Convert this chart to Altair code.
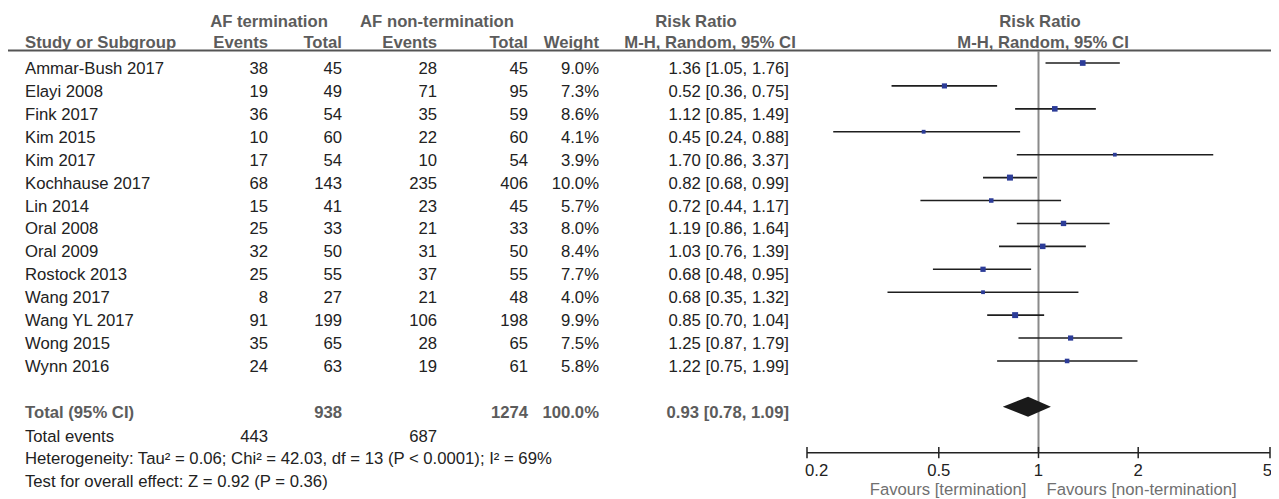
import altair as alt
import pandas as pd

# ---------------- data ----------------
studies = ["Ammar-Bush 2017", "Elayi 2008", "Fink 2017", "Kim 2015", "Kim 2017",
           "Kochhause 2017", "Lin 2014", "Oral 2008", "Oral 2009", "Rostock 2013",
           "Wang 2017", "Wang YL 2017", "Wong 2015", "Wynn 2016"]
term_events = [38, 19, 36, 10, 17, 68, 15, 25, 32, 25, 8, 91, 35, 24]
term_total = [45, 49, 54, 60, 54, 143, 41, 33, 50, 55, 27, 199, 65, 63]
non_events = [28, 71, 35, 22, 10, 235, 23, 21, 31, 37, 21, 106, 28, 19]
non_total = [45, 95, 59, 60, 54, 406, 45, 33, 50, 55, 48, 198, 65, 61]
weights = [9.0, 7.3, 8.6, 4.1, 3.9, 10.0, 5.7, 8.0, 8.4, 7.7, 4.0, 9.9, 7.5, 5.8]
rr = [1.36, 0.52, 1.12, 0.45, 1.70, 0.82, 0.72, 1.19, 1.03, 0.68, 0.68, 0.85, 1.25, 1.22]
rr_lo = [1.05, 0.36, 0.85, 0.24, 0.86, 0.68, 0.44, 0.86, 0.76, 0.48, 0.35, 0.70, 0.87, 0.75]
rr_hi = [1.76, 0.75, 1.49, 0.88, 3.37, 0.99, 1.17, 1.64, 1.39, 0.95, 1.32, 1.04, 1.79, 1.99]

total_term, total_non, total_weight = 938, 1274, 100.0
total_rr, total_lo, total_hi = 0.93, 0.78, 1.09
events_term, events_non = 443, 687
heterogeneity = "Heterogeneity: Tau\u00b2 = 0.06; Chi\u00b2 = 42.03, df = 13 (P < 0.0001); I\u00b2 = 69%"
overall = "Test for overall effect: Z = 0.92 (P = 0.36)"
tick_values = [0.2, 0.5, 1, 2, 5]
tick_labels = ["0.2", "0.5", "1", "2", "5"]

# ---------------- tables ----------------
df = pd.DataFrame({
    "study": studies, "e1": term_events, "t1": term_total,
    "e2": non_events, "t2": non_total, "w": weights,
    "rr": rr, "lo": rr_lo, "hi": rr_hi,
})
df["row"] = range(len(df))
df["wtxt"] = [f"{w:.1f}%" for w in weights]
df["rrtxt"] = [f"{a:.2f} [{b:.2f}, {c:.2f}]" for a, b, c in zip(rr, rr_lo, rr_hi)]

TOTAL_ROW = len(studies) + 1
EVENTS_ROW = TOTAL_ROW + 1
HET_ROW = TOTAL_ROW + 2
TEST_ROW = TOTAL_ROW + 3
AXIS_ROW = HET_ROW

FONT = "Liberation Sans"
FS = 16.7
BODY = "#222222"
HEAD = "#5c5c5c"
BLUE = "#2c3c98"

xs = alt.Scale(type="log", domain=[0.2, 5], range=[799, 1262])
ys = alt.Scale(type="linear", domain=[0, 18], range=[55, 55 + 22.92 * 18], zero=False, nice=False)

one = alt.Data(values=[{}])


def col_text(data, field, x, align, bold=False, color=BODY, dy=6):
    return alt.Chart(data).mark_text(
        align=align, baseline="middle", dy=dy, font=FONT, fontSize=FS,
        fontWeight="bold" if bold else "normal", color=color,
    ).encode(
        x=alt.value(x),
        y=alt.Y("row:Q", scale=ys, axis=None),
        text=f"{field}:N",
    )


def row_text(label, row, x, align, bold=False, color=BODY, dy=6):
    return alt.Chart(one).mark_text(
        align=align, baseline="middle", dy=dy, font=FONT, fontSize=FS,
        fontWeight="bold" if bold else "normal", color=color,
    ).encode(
        x=alt.value(x),
        y=alt.YDatum(row, scale=ys, axis=None),
        text=alt.value(label),
    )


def head_text(label, x, y, align):
    return alt.Chart(one).mark_text(
        align=align, baseline="middle", font=FONT, fontSize=FS,
        fontWeight="bold", color=HEAD,
    ).encode(x=alt.value(x), y=alt.value(y), text=alt.value(label))


layers = []

# headers
layers += [
    head_text("AF termination", 261, 14, "center"),
    head_text("AF non-termination", 429, 14, "center"),
    head_text("Risk Ratio", 688, 14, "center"),
    head_text("Risk Ratio", 1032, 14, "center"),
    head_text("Study or Subgroup", 17, 35, "left"),
    head_text("Events", 260, 35, "right"),
    head_text("Total", 334, 35, "right"),
    head_text("Events", 429, 35, "right"),
    head_text("Total", 520, 35, "right"),
    head_text("Weight", 591, 35, "right"),
    head_text("M-H, Random, 95% CI", 702, 35, "center"),
    head_text("M-H, Random, 95% CI", 1035, 35, "center"),
]
layers.append(
    alt.Chart(one).mark_rule(color="#555555", strokeWidth=2).encode(
        x=alt.value(0), x2=alt.value(1263), y=alt.value(42.5)
    )
)

# study rows
layers += [
    col_text(df, "study", 17, "left"),
    col_text(df, "e1", 260, "right"),
    col_text(df, "t1", 334, "right"),
    col_text(df, "e2", 429, "right"),
    col_text(df, "t2", 520, "right"),
    col_text(df, "wtxt", 591, "right"),
    col_text(df, "rrtxt", 781, "right"),
]

# totals
layers += [
    row_text("Total (95% CI)", TOTAL_ROW, 17, "left", bold=True, color=HEAD),
    row_text(str(total_term), TOTAL_ROW, 334, "right", bold=True, color=HEAD),
    row_text(str(total_non), TOTAL_ROW, 520, "right", bold=True, color=HEAD),
    row_text(f"{total_weight:.1f}%", TOTAL_ROW, 591, "right", bold=True, color=HEAD),
    row_text(f"{total_rr:.2f} [{total_lo:.2f}, {total_hi:.2f}]", TOTAL_ROW, 781, "right", bold=True, color=HEAD),
    row_text("Total events", EVENTS_ROW, 17, "left", dy=7),
    row_text(str(events_term), EVENTS_ROW, 260, "right", dy=7),
    row_text(str(events_non), EVENTS_ROW, 429, "right", dy=7),
    row_text(heterogeneity, HET_ROW, 17, "left", dy=6),
    row_text(overall, TEST_ROW, 17, "left", dy=6),
]

# reference line at RR = 1
layers.append(
    alt.Chart(one).mark_rule(color="#8a8a8a", strokeWidth=2).encode(
        x=alt.XDatum(1, scale=xs, axis=None),
        y=alt.YDatum(-0.52, scale=ys, axis=None),
        y2=alt.Y2Datum(AXIS_ROW),
    )
)

# CI lines
layers.append(
    alt.Chart(df).mark_rule(color="#1e1e1e", strokeWidth=1.6).encode(
        x=alt.X("lo:Q", scale=xs, axis=None),
        x2="hi:Q",
        y=alt.Y("row:Q", scale=ys, axis=None),
    )
)

# squares
layers.append(
    alt.Chart(df).mark_square(color=BLUE, opacity=1, strokeWidth=0).encode(
        x=alt.X("rr:Q", scale=xs, axis=None),
        y=alt.Y("row:Q", scale=ys, axis=None),
        size=alt.Size("w:Q", scale=alt.Scale(domain=[0, 10], range=[0, 36]), legend=None),
    )
)

# diamond
diamond = pd.DataFrame({"x": [total_lo, total_rr, total_hi], "k": [0, 1, 0]})
layers.append(
    alt.Chart(diamond).transform_calculate(
        ytop=f"{TOTAL_ROW} - 0.436 * datum.k",
        ybot=f"{TOTAL_ROW} + 0.436 * datum.k",
    ).mark_area(color="#1a1a1a", opacity=1).encode(
        x=alt.X("x:Q", scale=xs, axis=None),
        y=alt.Y("ytop:Q", scale=ys, axis=None),
        y2="ybot:Q",
    )
)

# axis
ticks = pd.DataFrame({"v": tick_values, "lab": tick_labels})
layers.append(
    alt.Chart(one).mark_rule(color="#222222", strokeWidth=1.5).encode(
        x=alt.XDatum(tick_values[0], scale=xs, axis=None),
        x2=alt.X2Datum(tick_values[-1]),
        y=alt.YDatum(AXIS_ROW, scale=ys, axis=None),
    )
)
layers.append(
    alt.Chart(ticks).mark_rule(color="#222222", strokeWidth=1.5).encode(
        x=alt.X("v:Q", scale=xs, axis=None),
        y=alt.YDatum(AXIS_ROW - 0.25, scale=ys, axis=None),
        y2=alt.Y2Datum(AXIS_ROW + 0.24),
    )
)


def tick_text(sub, align, dx):
    return alt.Chart(sub).mark_text(
        align=align, baseline="middle", dx=dx, dy=18.5, font=FONT, fontSize=FS, color="#222222"
    ).encode(
        x=alt.X("v:Q", scale=xs, axis=None),
        y=alt.YDatum(AXIS_ROW, scale=ys, axis=None),
        text="lab:N",
    )


layers += [
    tick_text(ticks.iloc[[0]], "left", -2),
    tick_text(ticks.iloc[1:-1], "center", 0),
    tick_text(ticks.iloc[[-1]], "right", 2),
]

for label, align, dx in [("Favours [termination]", "right", -12),
                         ("Favours [non-termination]", "left", 8)]:
    layers.append(
        alt.Chart(one).mark_text(
            align=align, baseline="middle", dx=dx, dy=37.5, font=FONT, fontSize=FS, color="#707070"
        ).encode(
            x=alt.XDatum(1, scale=xs, axis=None),
            y=alt.YDatum(AXIS_ROW, scale=ys, axis=None),
            text=alt.value(label),
        )
    )

chart = alt.layer(*layers).properties(
    width=1263, height=491,
    autosize=alt.AutoSizeParams(type="none"),
    padding=0,
    background="white",
).configure_view(stroke=None)

chart.save("out.html", embed_options={"renderer": "svg", "actions": False})
